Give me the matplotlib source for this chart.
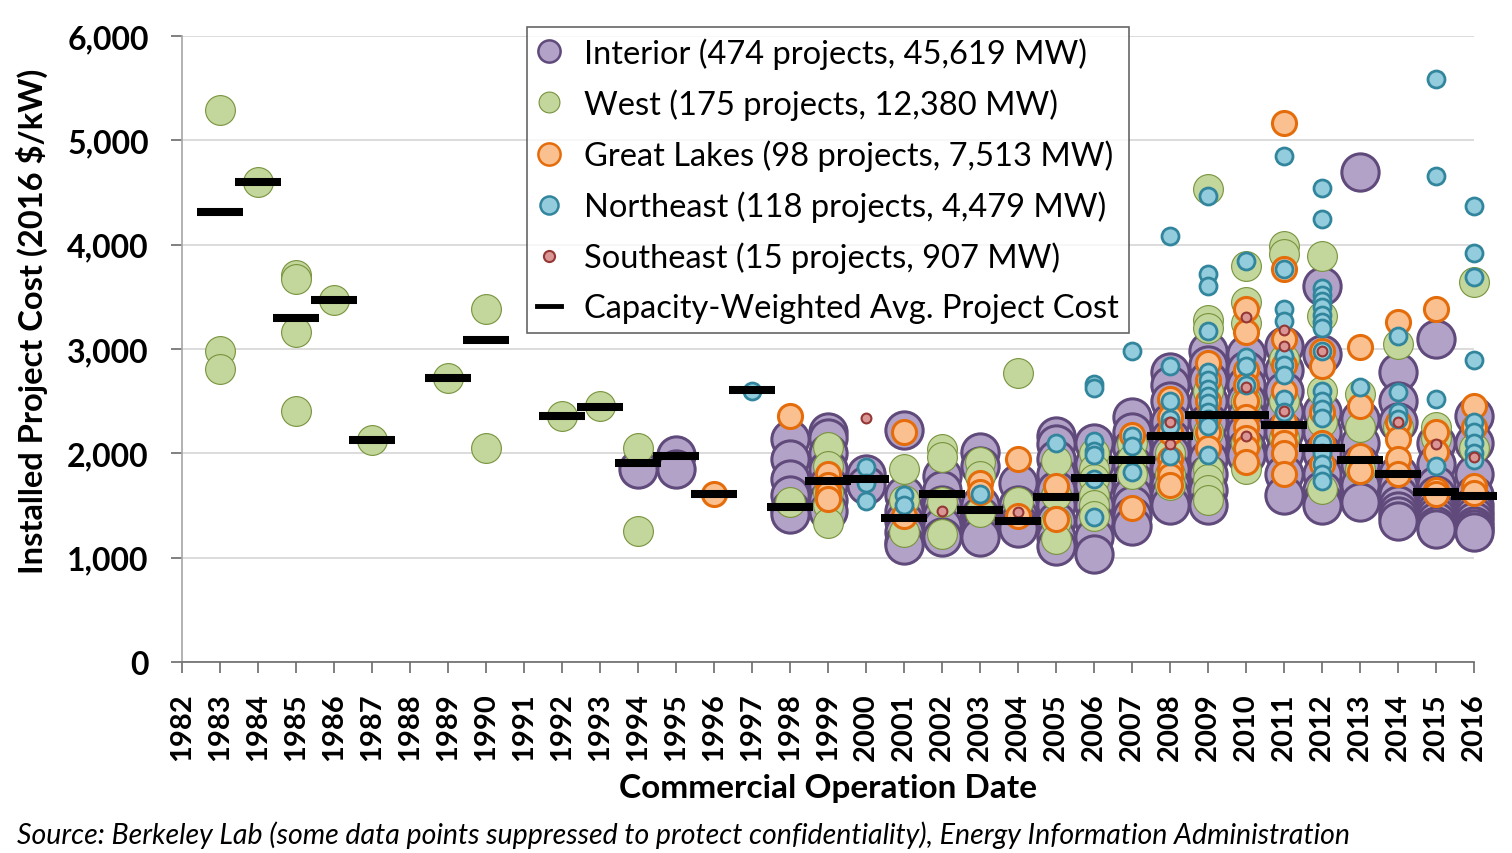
import matplotlib
matplotlib.use("Agg")
import matplotlib.pyplot as plt
from matplotlib.lines import Line2D
from matplotlib.ticker import FuncFormatter

plt.rcParams['font.family'] = ['Lato', 'DejaVu Sans']

# installed project cost (2016 $/kW) by commercial operation year, per region
interior = {
    1994: [1850],
    1995: [1985, 1850],
    1998: [2140, 1950, 1750, 1600, 1470, 1420],
    1999: [2200, 2150, 2000, 1850, 1700, 1550, 1450],
    2000: [1800, 1700],
    2001: [2220, 1600, 1450, 1350, 1250, 1150, 1120],
    2002: [1780, 1650, 1500, 1400, 1300, 1200],
    2003: [2010, 1880, 1500, 1400, 1330, 1280, 1250, 1200],
    2004: [1720, 1500, 1400, 1330, 1280],
    2005: [2170, 2090, 1950, 1800, 1650, 1500, 1350, 1200, 1110],
    2006: [2100, 1900, 1700, 1500, 1350, 1200, 1030],
    2007: [2350, 2200, 2050, 1900, 1750, 1600, 1500, 1400, 1300],
    2008: [2780, 2650, 2500, 2300, 2150, 2000, 1850, 1700, 1600, 1500],
    2009: [2980, 2850, 2700, 2500, 2300, 2100, 1950, 1800, 1650, 1500],
    2010: [2950, 2800, 2650, 2500, 2350, 2200, 2050, 1980],
    2011: [3030, 2800, 2600, 2400, 2200, 2000, 1800, 1600],
    2012: [3600, 2950, 2400, 2200, 2000, 1800, 1650, 1550, 1500],
    2013: [4700, 2330, 2100, 1900, 1700, 1530],
    2014: [2780, 2500, 2300, 1800, 1700, 1600, 1500, 1450, 1400, 1350],
    2015: [3100, 2100, 1900, 1700, 1600, 1500, 1450, 1400, 1350, 1300, 1270],
    2016: [2360, 2100, 1800, 1600, 1500, 1450, 1400, 1350, 1300, 1270, 1250],
}
west = {
    1983: [5290, 2980, 2810],
    1984: [4600],
    1985: [3710, 3670, 3160, 2410],
    1986: [3470],
    1987: [2130],
    1989: [2720],
    1990: [3385, 2050],
    1992: [2360],
    1993: [2450],
    1994: [2050, 1260],
    1998: [1530],
    1999: [2060, 1880, 1630, 1500, 1330],
    2001: [1850, 1550, 1250],
    2002: [2040, 1960, 1530, 1230],
    2003: [1920, 1780, 1440],
    2004: [2770, 1530],
    2005: [1930, 1600, 1350, 1180],
    2006: [2000, 1850, 1750, 1600, 1500, 1400],
    2007: [2100, 1950, 1800],
    2008: [2000, 1800, 1700],
    2009: [4530, 3280, 3200, 2600, 2200, 1850, 1750, 1650, 1550],
    2010: [3800, 3450, 3250, 2500, 2100, 1850],
    2011: [3990, 3910, 2900, 2500, 2150],
    2012: [3890, 3320, 2600, 2300, 1660],
    2013: [2570, 2250, 1850],
    2014: [3050, 2250],
    2015: [2250, 2150],
    2016: [3640, 2050],
}
great_lakes = {
    1996: [1610],
    1998: [2360],
    1999: [1800, 1700, 1620, 1560],
    2001: [2200, 1400],
    2003: [1720, 1630],
    2004: [1950, 1400],
    2005: [1690, 1370],
    2007: [2180, 1480],
    2008: [2520, 2350, 2200, 1950, 1850, 1780, 1700],
    2009: [2870, 2700, 2500, 2350, 2200, 2050],
    2010: [3380, 3160, 2800, 2650, 2500, 2350, 2250, 2150, 2050, 1920],
    2011: [5170, 3770, 3100, 2850, 2600, 2300, 2200, 2100, 2000, 1800],
    2012: [2980, 2840, 2400, 2100, 1900],
    2013: [3020, 2450, 1970, 1830],
    2014: [3260, 2300, 2140, 1950, 1800],
    2015: [3380, 2200, 2010, 1650, 1610],
    2016: [2450, 2250, 1690, 1620],
}
northeast = {
    1997: [2600],
    2000: [1870, 1720, 1540],
    2001: [1600, 1500],
    2003: [1610],
    2005: [2100],
    2006: [2660, 2630, 2120, 2020, 1980, 1750, 1390],
    2007: [2980, 2170, 2070, 1820],
    2008: [4080, 2840, 2500, 2330, 2260, 1970],
    2009: [4470, 3720, 3600, 3170, 2780, 2700, 2620, 2550, 2480, 2400, 2330, 2260, 1980],
    2010: [3840, 2920, 2840, 2650],
    2011: [4850, 3770, 3380, 3270, 2930, 2850, 2750, 2520, 2400],
    2012: [4540, 4250, 3580, 3520, 3460, 3400, 3330, 3260, 3200, 2980, 2600, 2500,
           2420, 2340, 2100, 2000, 1900, 1800, 1730],
    2013: [2640],
    2014: [3120, 2590, 2400, 2330],
    2015: [5590, 4660, 2520, 1880],
    2016: [4370, 3920, 3690, 2890, 2300, 2200, 2100, 2000, 1940],
}
southeast = {
    2000: [2340],
    2002: [1450],
    2004: [1440],
    2008: [2300, 2090],
    2010: [3310, 2640, 2170],
    2011: [3180, 3030, 2410],
    2012: [2980],
    2014: [2300],
    2015: [2090],
    2016: [1960],
}

avg_years = [1983, 1984, 1985, 1986, 1987, 1989, 1990, 1992, 1993, 1994, 1995, 1996,
             1997, 1998, 1999, 2000, 2001, 2002, 2003, 2004, 2005, 2006, 2007, 2008,
             2009, 2010, 2011, 2012, 2013, 2014, 2015, 2016]
avg_cost = [4310, 4600, 3300, 3470, 2130, 2720, 3090, 2360, 2445, 1910, 1975, 1610,
            2605, 1485, 1735, 1755, 1380, 1610, 1460, 1350, 1580, 1765, 1935, 2165,
            2365, 2365, 2270, 2050, 1935, 1800, 1630, 1590]

labels = ['Interior (474 projects, 45,619 MW)',
          'West (175 projects, 12,380 MW)',
          'Great Lakes (98 projects, 7,513 MW)',
          'Northeast (118 projects, 4,479 MW)',
          'Southeast (15 projects, 907 MW)',
          'Capacity-Weighted Avg. Project Cost']

# (data, face, edge, marker area, edge width)
regions = [
    (interior, '#B3A2C7', '#604A7B', 720, 2.2),
    (west, '#C3D69B', '#77933C', 460, 0.8),
    (great_lakes, '#FAC090', '#E46C0A', 300, 2.2),
    (northeast, '#93CDDD', '#31859C', 150, 2.0),
    (southeast, '#D99694', '#953735', 50, 1.5),
]

fig = plt.figure(figsize=(15.12, 8.54), dpi=100)
ax = fig.add_axes([0.1204, 0.2237, 0.8546, 0.7330])

for data, face, edge, size, lw in regions:
    xs, ys = [], []
    for yr, costs in data.items():
        for c in costs:
            xs.append(yr)
            ys.append(c)
    ax.scatter(xs, ys, s=size, facecolor=face, edgecolor=edge, linewidth=lw,
               zorder=3, clip_on=False)

ax.hlines(avg_cost, [y - 0.6 for y in avg_years], [y + 0.6 for y in avg_years],
          colors='black', linewidth=5.8, zorder=5, clip_on=False)

ax.set_xlim(1982, 2016)
ax.set_ylim(0, 6000)
ax.set_xticks(range(1982, 2017))
ax.set_xticklabels([str(y) for y in range(1982, 2017)], rotation=90,
                   fontsize=21, fontweight='bold')
ax.set_yticks(range(0, 6001, 1000))
ax.yaxis.set_major_formatter(FuncFormatter(lambda v, p: f'{int(v):,}'))
for t in ax.get_yticklabels():
    t.set_fontsize(23)
    t.set_fontweight('bold')
ax.tick_params(axis='x', direction='out', length=8, width=1.2, color='#6b6b6b', pad=14)
ax.tick_params(axis='y', direction='out', length=8, width=1.2, color='#6b6b6b', pad=16)

ax.grid(axis='y', color='#D9D9D9', linewidth=1.3, zorder=0)
ax.set_axisbelow(True)
for s in ['top', 'right']:
    ax.spines[s].set_visible(False)
ax.spines['left'].set_color('#a6a6a6')
ax.spines['left'].set_linewidth(1.2)
ax.spines['bottom'].set_color('#6b6b6b')
ax.spines['bottom'].set_linewidth(1.2)

ax.set_ylabel('Installed Project Cost (2016 $/kW)', fontsize=23.5, fontweight='bold')
ax.yaxis.set_label_coords(-0.104, 0.546)
ax.set_xlabel('Commercial Operation Date', fontsize=24, fontweight='bold', labelpad=9)

handles = []
for (data, face, edge, size, lw), ms in zip(regions, [16, 15, 16, 13, 8]):
    handles.append(Line2D([], [], linestyle='none', marker='o', markersize=ms,
                          markerfacecolor=face, markeredgecolor=edge,
                          markeredgewidth=min(lw, 1.8)))
handles.append(Line2D([], [], color='black', linewidth=3.5))

leg = fig.legend(handles, labels, loc='upper left', bbox_to_anchor=(0.3485, 0.967),
                 fontsize=23.5, frameon=True, fancybox=False, handlelength=0.75,
                 handletextpad=0.7, labelspacing=0.6, borderpad=0.3,
                 borderaxespad=0)
leg.get_frame().set_edgecolor('#404040')
leg.get_frame().set_linewidth(1.2)

fig.text(0.011, 0.012, 'Source: Berkeley Lab (some data points suppressed to protect '
         'confidentiality), Energy Information Administration',
         fontsize=20.5, fontstyle='italic')

fig.savefig('out.png', dpi=100)
